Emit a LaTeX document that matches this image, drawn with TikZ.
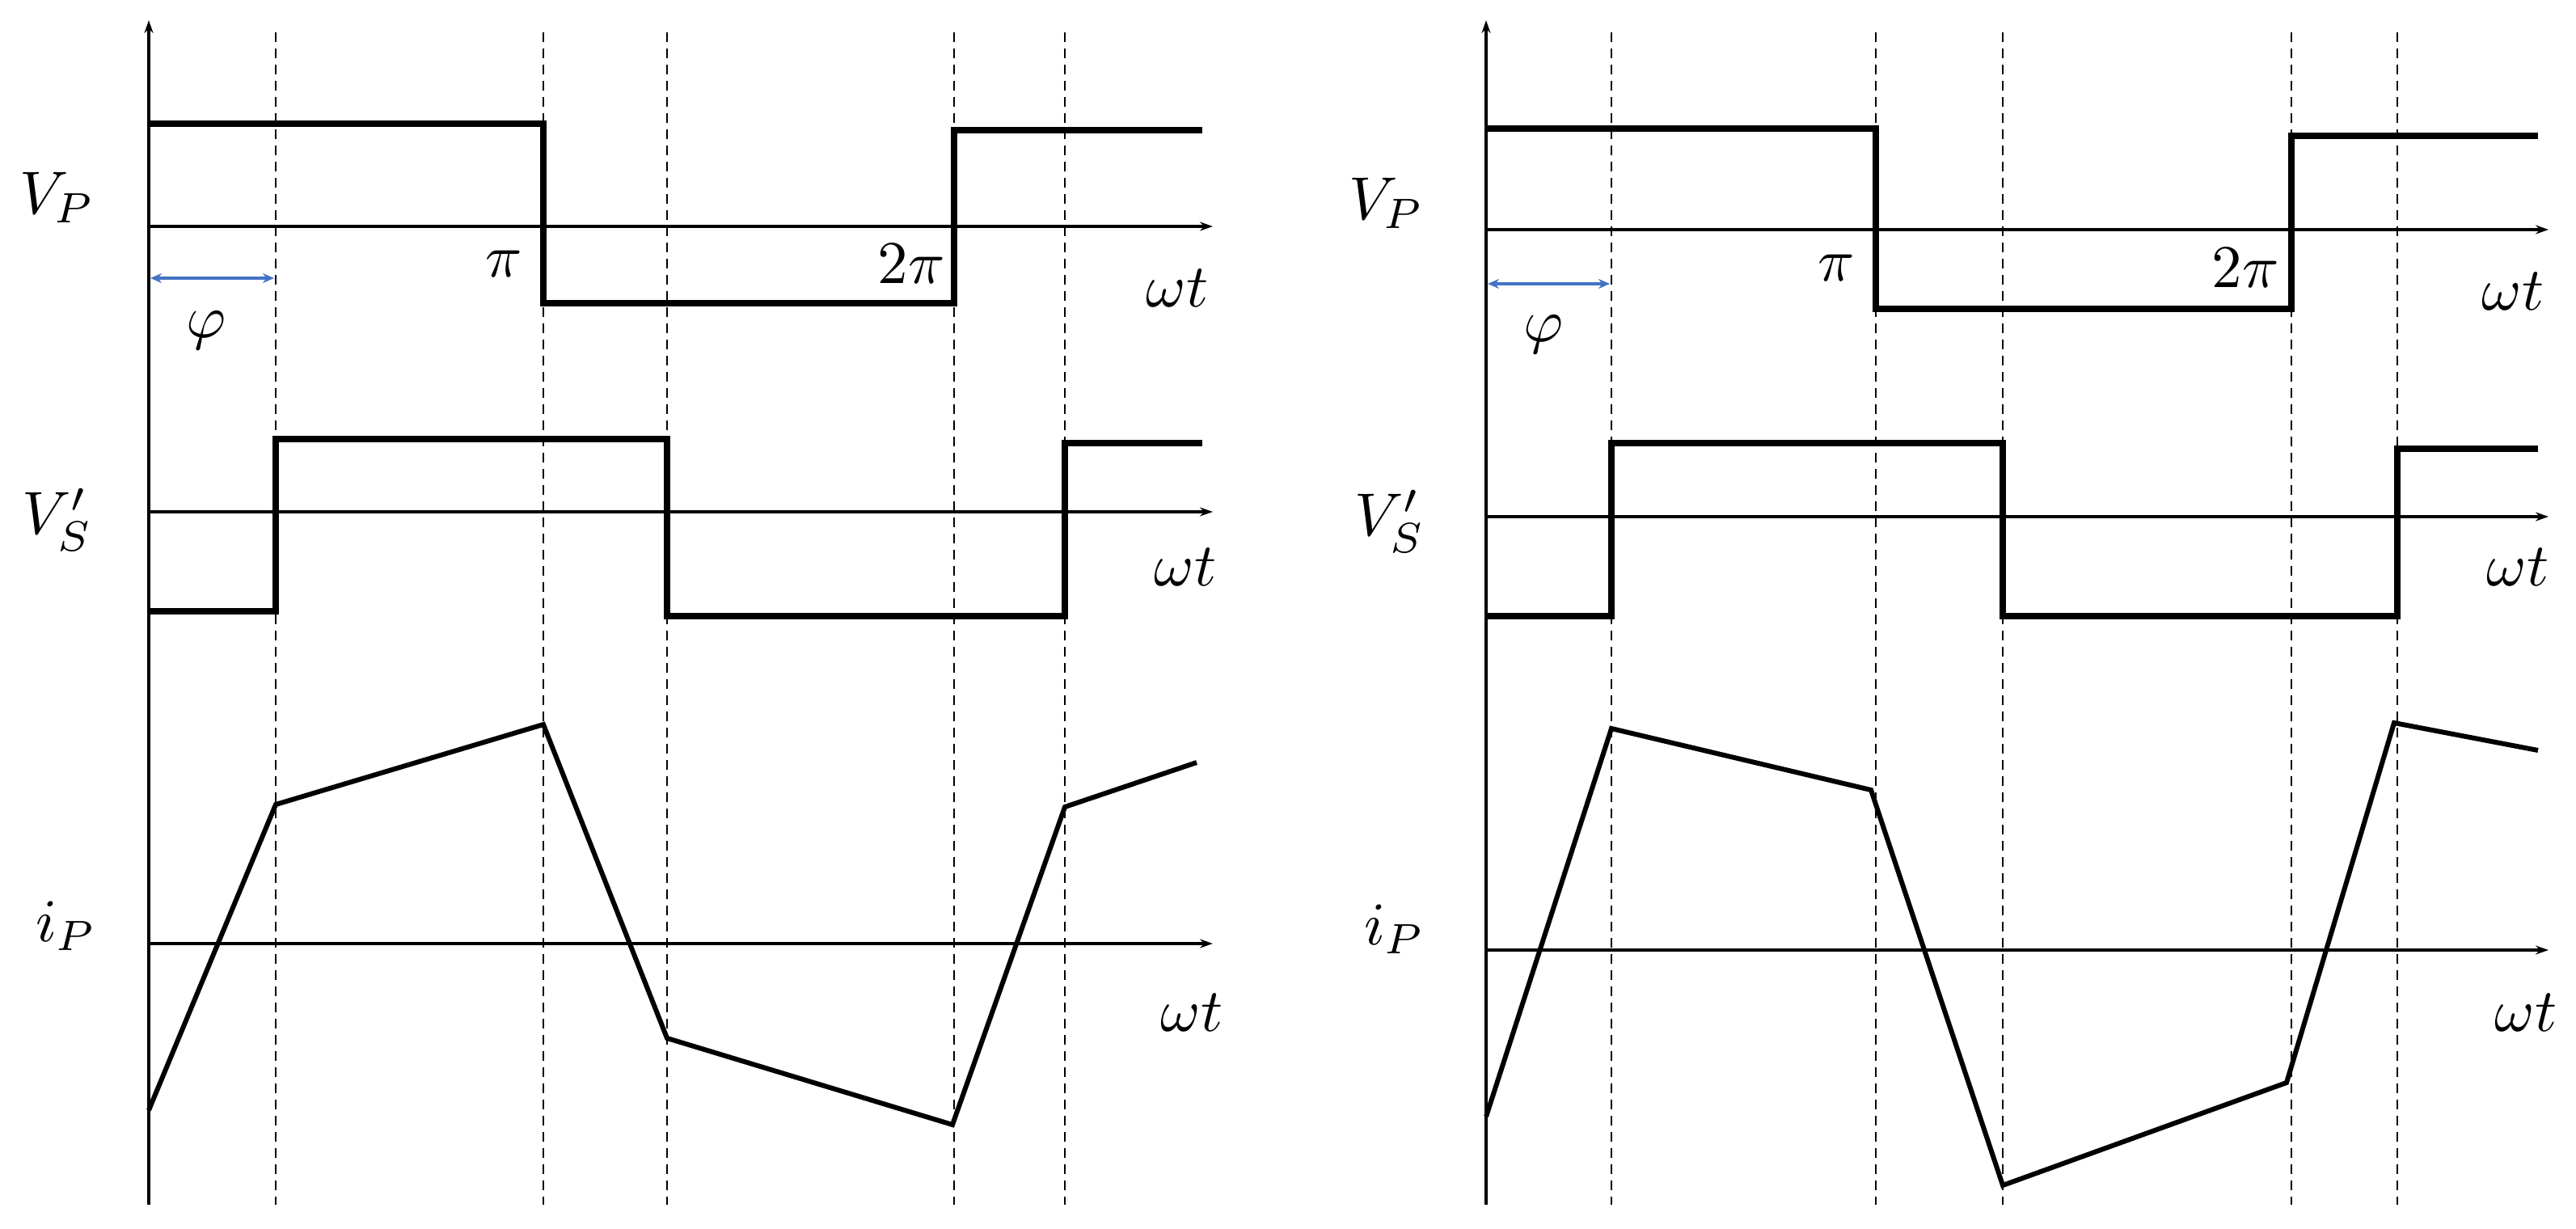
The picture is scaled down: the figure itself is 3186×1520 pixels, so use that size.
\documentclass[tikz,border=0pt]{standalone}
\usepackage{amsmath}
\usetikzlibrary{arrows.meta}
\begin{document}
\begin{tikzpicture}[x=1pt,y=-1pt,
  ax/.style={line width=3.5pt,-{Stealth[length=16pt,width=11pt]}},
  dsh/.style={line width=2pt,dash pattern=on 12pt off 8pt},
  sq/.style={line width=8pt},
  cur/.style={line width=6pt,line join=miter},
  lbl/.style={inner sep=0pt,transform shape=false,scale=7.5},
  phi/.style={line width=4pt,color={rgb,255:red,68;green,114;blue,196},{Stealth[length=14pt,width=12pt]}-{Stealth[length=14pt,width=12pt]}}]
\useasboundingbox (0,0) rectangle (3186,1520);
% ---------- left panel ----------
\foreach \x in {341,672,825,1180,1317} \draw[dsh] (\x,40) -- (\x,1490);
\draw[ax] (184,1490) -- (184,25);
\draw[ax] (184,280) -- (1500,280);
\draw[ax] (184,633) -- (1500,633);
\draw[ax] (184,1167) -- (1500,1167);
\draw[sq] (184,153) -- (672,153) -- (672,375) -- (1180,375) -- (1180,161) -- (1487,161);
\draw[sq] (184,756) -- (341,756) -- (341,543) -- (825,543) -- (825,762) -- (1317,762) -- (1317,548) -- (1487,548);
\draw[cur] (184,1373) -- (341,995) -- (672,896) -- (825,1284) -- (1178,1391) -- (1317,998) -- (1480,943);
\draw[phi] (186,344) -- (339,344);
\node[lbl] (vpL) at (71,244) {$V_P$};
\node[lbl] (piL) at (623,326) {$\pi$};
\node[lbl] (tpiL) at (1127,326) {$2\pi$};
\node[lbl] (wt1L) at (1456,356) {$\omega t$};
\node[lbl] (phL) at (255,409) {$\varphi$};
\node[lbl] (vsL) at (71,643) {$V_S'$};
\node[lbl] (wt2L) at (1466,701) {$\omega t$};
\node[lbl] (ipL) at (82,1145) {$i_P$};
\node[lbl] (wt3L) at (1474,1252) {$\omega t$};
% ---------- right panel ----------
\foreach \x in {1993,2320,2477,2834,2965} \draw[dsh] (\x,40) -- (\x,1490);
\draw[ax] (1838,1490) -- (1838,25);
\draw[ax] (1838,284) -- (3152,284);
\draw[ax] (1838,639) -- (3152,639);
\draw[ax] (1838,1175) -- (3152,1175);
\draw[sq] (1838,159) -- (2320,159) -- (2320,382) -- (2834,382) -- (2834,168) -- (3139,168);
\draw[sq] (1838,762) -- (1993,762) -- (1993,548) -- (2477,548) -- (2477,762) -- (2965,762) -- (2965,555) -- (3139,555);
\draw[cur] (1838,1381) -- (1993,901) -- (2314,977) -- (2477,1466) -- (2828,1339) -- (2961,894) -- (3139,928);
\draw[phi] (1840,351) -- (1991,351);
\node[lbl] (vpR) at (1715,251) {$V_P$};
\node[lbl] (piR) at (2271,331) {$\pi$};
\node[lbl] (tpiR) at (2777,331) {$2\pi$};
\node[lbl] (wt1R) at (3108,360) {$\omega t$};
\node[lbl] (phR) at (1909,414) {$\varphi$};
\node[lbl] (vsR) at (1719,645) {$V_S'$};
\node[lbl] (wt2R) at (3114,701) {$\omega t$};
\node[lbl] (ipR) at (1725,1149) {$i_P$};
\node[lbl] (wt3R) at (3124,1252) {$\omega t$};
\end{tikzpicture}
\end{document}
